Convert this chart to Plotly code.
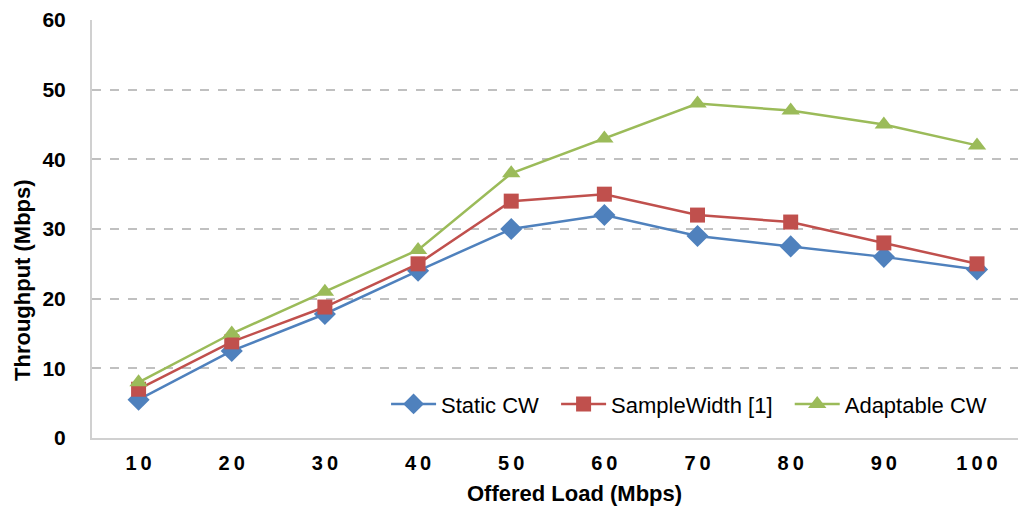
import plotly.graph_objects as go

loads = [10, 20, 30, 40, 50, 60, 70, 80, 90, 100]
static_cw = [5.5, 12.5, 17.8, 24, 30, 32, 29, 27.5, 26, 24.2]
sample_width = [7, 13.8, 18.8, 25, 34, 35, 32, 31, 28, 25]
adaptable_cw = [8, 15, 21, 27, 38, 43, 48, 47, 45, 42]
series_names = ["Static CW", "SampleWidth [1]", "Adaptable CW"]
x_tick_text = ["1\u20090", "2\u20090", "3\u20090", "4\u20090", "5\u20090", "6\u20090", "7\u20090", "8\u20090", "9\u20090", "1\u20090\u20090"]
x_title = "Offered Load (Mbps)"
y_title = "Throughput (Mbps)"

fig = go.Figure()
styles = [
    (static_cw, "#4F81BD", "diamond", 17, "\u00a0\u00a0"),
    (sample_width, "#C0504D", "square", 15, "\u00a0\u00a0"),
    (adaptable_cw, "#9BBB59", "triangle-up", 16, ""),
]
for name, (ys, col, sym, sz, pad) in zip(series_names, styles):
    fig.add_trace(go.Scatter(x=loads, y=ys, name=name + pad, mode="lines+markers",
                             line=dict(color=col, width=2.5),
                             marker=dict(symbol=sym, size=sz, color=col)))

W, H = 1018, 511
fig.update_layout(
    width=W, height=H,
    margin=dict(l=92, r=0, t=20, b=73),
    plot_bgcolor="white", paper_bgcolor="white",
    font=dict(family="Arial, Liberation Sans", color="black"),
    showlegend=True,
    legend=dict(orientation="h", x=0.972, y=0.081, xanchor="right", yanchor="middle",
                font=dict(size=22), bgcolor="rgba(0,0,0,0)", itemwidth=45),
    xaxis=dict(range=[5.0, 104.4], tickvals=loads, ticktext=x_tick_text,
               showgrid=False, zeroline=False, showline=True, linecolor="#D0D0D0", linewidth=2,
               ticks="", ticklabelstandoff=6,
               tickfont=dict(size=20, weight="bold")),
    yaxis=dict(range=[0, 60], dtick=10, showgrid=True, gridcolor="#C0C0C0", griddash="dash",
               gridwidth=1.5, zeroline=False, showline=True, linecolor="#D0D0D0", linewidth=2,
               ticks="", ticklabelstandoff=20, tickfont=dict(size=21, weight="bold")),
    annotations=[
        dict(text="<b>" + x_title + "</b>", xref="paper", yref="paper",
             x=(574 - 92) / 926, y=-(493 - 438) / 418, xanchor="center", yanchor="middle",
             showarrow=False, font=dict(size=22)),
        dict(text="<b>" + y_title + "</b>", xref="paper", yref="paper",
             x=-(92 - 22) / 926, y=(438 - 280) / 418, xanchor="center", yanchor="middle",
             textangle=-90, showarrow=False, font=dict(size=22)),
    ],
)
fig.write_html("out.html")
